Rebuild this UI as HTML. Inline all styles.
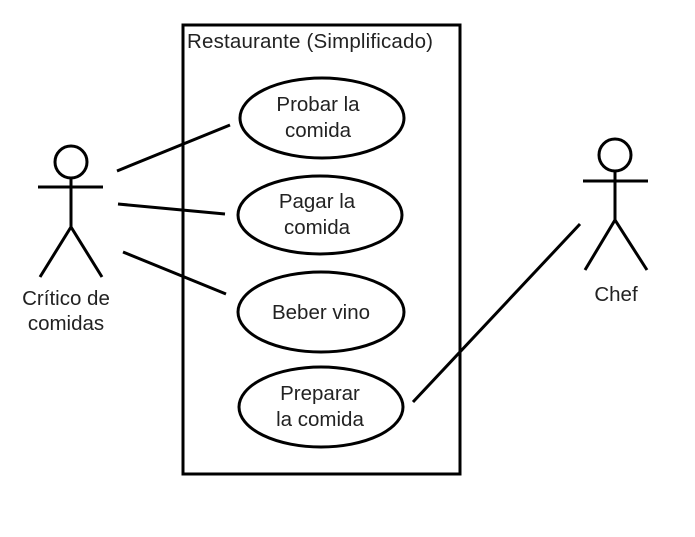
<!DOCTYPE html>
<html><head><style>body{margin:0;background:#fff}svg{display:block}text{font-family:"Liberation Sans",sans-serif;font-size:20.5px;fill:#222}</style></head>
<body>
<svg width="695" height="537" viewBox="0 0 695 537">
<g stroke="#000" stroke-width="3" fill="none">
<rect x="183" y="25" width="277" height="449"/>
<ellipse cx="322" cy="118" rx="82" ry="40"/>
<ellipse cx="320" cy="215" rx="82" ry="39"/>
<ellipse cx="321" cy="312" rx="83" ry="40"/>
<ellipse cx="321" cy="407" rx="82" ry="40"/>
<circle cx="71" cy="162" r="16"/>
<line x1="38" y1="187" x2="103" y2="187"/>
<line x1="71" y1="178" x2="71" y2="227"/>
<polyline points="40,277 71,227 102,277"/>
<circle cx="615" cy="155" r="16"/>
<line x1="583" y1="181" x2="648" y2="181"/>
<line x1="615" y1="171" x2="615" y2="220"/>
<polyline points="585,270 615,220 647,270"/>
<line x1="117" y1="171" x2="230" y2="125"/>
<line x1="118" y1="204" x2="225" y2="214"/>
<line x1="123" y1="252" x2="226" y2="294"/>
<line x1="413" y1="402" x2="580" y2="224"/>
</g>
<text x="187" y="48" textLength="246">Restaurante (Simplificado)</text>
<g text-anchor="middle">
<text x="318" y="111">Probar la</text><text x="318" y="137">comida</text>
<text x="317" y="208">Pagar la</text><text x="317" y="234">comida</text>
<text x="321" y="319">Beber vino</text>
<text x="320" y="400">Preparar</text><text x="320" y="426">la comida</text>
<text x="66" y="305">Crítico de</text><text x="66" y="330">comidas</text>
<text x="616" y="301">Chef</text>
</g>
</svg>
</body></html>
